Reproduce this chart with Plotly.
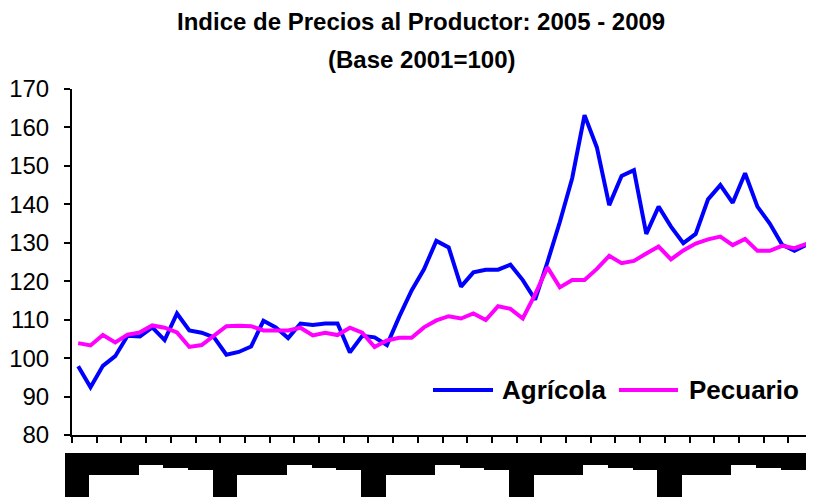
import plotly.graph_objects as go

meses = ["ene", "feb", "mar", "abr", "may", "jun", "jul", "ago", "sep", "oct", "nov", "dic"]
anios = ["05", "06", "07", "08", "09"]
categorias = [f"{m}-{a}" for a in anios for m in meses]

agricola = [97.9, 92.4, 98.0, 100.5, 105.8, 105.6, 108.0, 104.7, 111.6, 107.2,
            106.6, 105.4, 100.9, 101.6, 103.0, 109.7, 108.0, 105.2, 109.0, 108.6,
            109.0, 109.0, 101.5, 105.8, 105.4, 103.4, 110.8, 117.6, 123.1, 130.5,
            128.8, 118.6, 122.3, 123.0, 123.0, 124.3, 120.3, 115.2, 125.0, 135.4,
            146.8, 163.2, 154.8, 139.8, 147.4, 148.9, 132.3, 139.4, 134.2, 129.9,
            132.3, 141.3, 145.0, 140.4, 148.1, 139.4, 135.0, 129.5, 127.9, 129.5]

pecuario = [103.9, 103.3, 106.0, 104.1, 106.1, 106.7, 108.5, 107.9, 106.7, 102.9,
            103.4, 106.0, 108.3, 108.4, 108.3, 107.2, 107.2, 107.2, 107.9, 105.9,
            106.6, 106.0, 107.9, 106.6, 102.9, 104.6, 105.3, 105.3, 108.0, 109.8,
            110.9, 110.3, 111.6, 109.9, 113.5, 112.8, 110.3, 116.6, 123.6, 118.4,
            120.3, 120.3, 123.2, 126.6, 124.7, 125.3, 127.2, 129.0, 125.7, 128.0,
            129.8, 130.9, 131.6, 129.4, 131.0, 127.9, 127.9, 129.2, 128.6, 129.7]

series_nombres = ["Agrícola", "Pecuario"]
series_colores = ["#0000FF", "#FF00FF"]

# depth of the black label band per month of year (as rendered in the original)
profundidad_mes = [44, 44, 22, 22, 22, 22, 12, 12, 15, 15, 17, 17]
banda = [profundidad_mes[i % 12] for i in range(len(categorias))]

# the page body adds an 8px offset; figure is sized so it fills the window
OFF = 8
W, H = 814 - OFF, 497 - OFF
ML, MR, MT, MB = 64 - OFF, 1, 89 - OFF, 0
plot_w = W - ML - MR
plot_h = H - MT - MB
axis_left = 72 - OFF
bottom_axis = 435 - OFF
band_top = 453 - OFF


def px(x):
    return (x - OFF - ML) / plot_w


def py(y):
    return (H - (y - OFF)) / plot_h


fig = go.Figure()

for nombre, valores, color in zip(series_nombres, [agricola, pecuario], series_colores):
    fig.add_trace(go.Scatter(x=categorias, y=valores, name=nombre, mode="lines",
                             line=dict(color=color, width=4), showlegend=False))

n = len(categorias)
month_px = (W - MR - axis_left) / n
band_x = [i - 0.6 for i in range(n)]
fig.add_trace(go.Bar(x=band_x, y=banda, base=0, width=1, xaxis="x2", yaxis="y2",
                     marker=dict(color="black", line=dict(width=0)),
                     showlegend=False, hoverinfo="skip"))

x_dom_start = (axis_left - ML) / plot_w
y_dom_start = (H - bottom_axis) / plot_h

# custom legend (long line samples as in the original)
leg_y = py(390)
leg_items = [(433, 493, 500), (619, 678, 687)]
shapes = []
annotations = []
for (x0, x1, xt), nombre, color in zip(leg_items, series_nombres, series_colores):
    shapes.append(dict(type="line", xref="paper", yref="paper", x0=px(x0), x1=px(x1),
                       y0=leg_y, y1=leg_y, line=dict(color=color, width=4)))
    annotations.append(dict(text=f"<b>{nombre}</b>", xref="paper", yref="paper",
                            x=px(xt), y=leg_y, xanchor="left", yanchor="middle",
                            showarrow=False,
                            font=dict(size=26, family="Liberation Sans, Arial", color="black")))

annotations += [
    dict(text="<b>Indice de Precios al Productor: 2005 - 2009</b>", xref="paper", yref="paper",
         x=px(421), y=py(22), xanchor="center", yanchor="middle",
         showarrow=False, font=dict(size=24, family="Liberation Sans, Arial", color="black")),
    dict(text="<b>(Base 2001=100)</b>", xref="paper", yref="paper",
         x=px(421), y=py(59), xanchor="center", yanchor="middle",
         showarrow=False, font=dict(size=24, family="Liberation Sans, Arial", color="black")),
]

fig.update_layout(
    width=W, height=H,
    margin=dict(l=ML, r=MR, t=MT, b=MB, autoexpand=False),
    paper_bgcolor="white", plot_bgcolor="rgba(0,0,0,0)",
    font=dict(family="Liberation Sans, Arial", color="black", size=20),
    bargap=0,
    showlegend=False,
    xaxis=dict(type="category", domain=[x_dom_start, 1], range=[-0.5, n - 0.5],
               showline=True, linecolor="black", linewidth=2, mirror=False,
               ticks="outside", ticklen=6, tickwidth=2, tickcolor="black",
               tickson="boundaries", showticklabels=False, showgrid=False, zeroline=False,
               anchor="y"),
    yaxis=dict(domain=[y_dom_start, 1], range=[80, 170], dtick=10, tick0=80,
               showline=True, linecolor="black", linewidth=2,
               ticks="outside", ticklen=6, tickwidth=2, tickcolor="black",
               showgrid=False, zeroline=False, ticklabelstandoff=10,
               tickfont=dict(size=24, family="Liberation Sans, Arial", color="black"),
               anchor="x"),
    xaxis2=dict(domain=[0, 1], range=[-0.5 - (axis_left - ML) / month_px, n - 0.5],
                visible=False, anchor="y2"),
    yaxis2=dict(domain=[0, (H - band_top) / plot_h], range=[44, 0],
                visible=False, anchor="x2"),
    shapes=shapes,
    annotations=annotations,
)

fig.write_html("out.html")
